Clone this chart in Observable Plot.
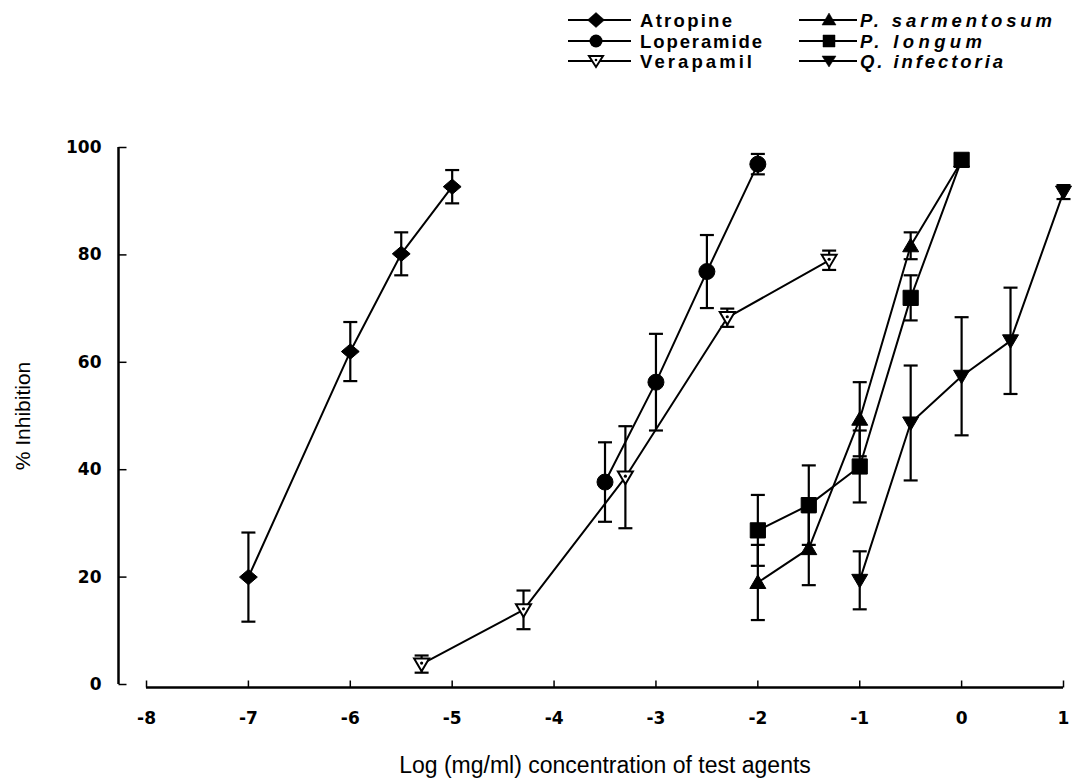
<!DOCTYPE html>
<html>
<head>
<meta charset="utf-8">
<script src="https://cdn.jsdelivr.net/npm/d3@7"></script>
<script src="https://cdn.jsdelivr.net/npm/@observablehq/plot@0.6"></script>
<style>
  html, body { margin: 0; padding: 0; background: #fff; }
  #wrap { position: relative; width: 1072px; height: 784px; overflow: hidden; }
  #legend { position: absolute; left: 0; top: 0; }
</style>
</head>
<body>
<div id="wrap">
  <div id="chart"></div>
  <svg id="legend" width="1072" height="80"></svg>
</div>
<script>
// ---- data ----
const seriesNames = ["Atropine", "Loperamide", "Verapamil", "P. sarmentosum", "P. longum", "Q. infectoria"];

const atropineX = [-7, -6, -5.5, -5];
const atropineY = [20, 62, 80.2, 92.7];
const atropineErr = [8.3, 5.5, 4, 3.1];

const loperamideX = [-3.5, -3, -2.5, -2];
const loperamideY = [37.7, 56.3, 76.9, 96.9];
const loperamideErr = [7.4, 9, 6.8, 1.9];

const verapamilX = [-5.3, -4.3, -3.3, -2.3, -1.3];
const verapamilY = [3.8, 13.9, 38.6, 68.3, 79];
const verapamilErr = [1.6, 3.6, 9.5, 1.7, 1.8];

const sarmentosumX = [-2, -1.5, -1, -0.5, 0];
const sarmentosumY = [19, 25.3, 49.4, 81.7, 97.5];
const sarmentosumErr = [7, 6.8, 6.9, 2.5, 1];

const longumX = [-2, -1.5, -1, -0.5, 0];
const longumY = [28.7, 33.4, 40.6, 72, 97.7];
const longumErr = [6.6, 7.4, 6.7, 4.2, 1];

const infectoriaX = [-1, -0.5, 0, 0.48, 1];
const infectoriaY = [19.4, 48.7, 57.4, 64, 91.7];
const infectoriaErr = [5.4, 10.7, 11, 9.9, 1.3];

const xTicks = [-8, -7, -6, -5, -4, -3, -2, -1, 0, 1];
const yTicks = [0, 20, 40, 60, 80, 100];
const xTitle = "Log (mg/ml) concentration of test agents";
const yTitle = "% Inhibition";

// ---- symbols ----
const rOf = size => Math.sqrt(size / Math.PI);
const diamondSym = { draw(c, s) { const r = rOf(s); c.moveTo(0, -r * 0.9); c.lineTo(r * 1.05, 0); c.lineTo(0, r * 0.9); c.lineTo(-r * 1.05, 0); c.closePath(); } };
const circleSym = { draw(c, s) { const r = rOf(s); c.moveTo(r, 0); c.arc(0, 0, r, 0, 2 * Math.PI); c.closePath(); } };
const triUpSym = { draw(c, s) { const r = rOf(s); c.moveTo(0, -r * 0.95); c.lineTo(r, r * 0.75); c.lineTo(-r, r * 0.75); c.closePath(); } };
const triDownSym = { draw(c, s) { const r = rOf(s); c.moveTo(-r, -r * 0.75); c.lineTo(r, -r * 0.75); c.lineTo(0, r * 0.95); c.closePath(); } };
const squareSym = { draw(c, s) { const r = rOf(s) * 0.95; c.rect(-r, -r, 2 * r, 2 * r); } };
const capSym = { draw(c, s) { c.moveTo(-7, 0); c.lineTo(7, 0); } };
const vTickSym = { draw(c, s) { c.moveTo(0, 0); c.lineTo(0, -7); } };
const hTickSym = { draw(c, s) { c.moveTo(0, 0); c.lineTo(8, 0); } };

const xs = [atropineX, loperamideX, verapamilX, sarmentosumX, longumX, infectoriaX];
const ys = [atropineY, loperamideY, verapamilY, sarmentosumY, longumY, infectoriaY];
const es = [atropineErr, loperamideErr, verapamilErr, sarmentosumErr, longumErr, infectoriaErr];
const syms = [diamondSym, circleSym, triDownSym, triUpSym, squareSym, triDownSym];
const fills = ["black", "black", "white", "black", "black", "black"];
const sizes = [8.5, 8, 7.5, 8, 8, 8];

const rows = [];
seriesNames.forEach((name, i) => {
  xs[i].forEach((x, j) => rows.push({ series: name, idx: i, x, y: ys[i][j], e: es[i][j] }));
});

const xDomain = [-8.275, xTicks[xTicks.length - 1]];
const tickFont = "'DejaVu Sans', sans-serif";

const marks = [
  // y axis
  Plot.ruleX([xDomain[0]], { y1: yTicks[0], y2: yTicks[yTicks.length - 1], strokeWidth: 2.5 }),
  Plot.dot(yTicks, { x: () => xDomain[0], y: d => d, symbol: hTickSym, stroke: "black", strokeWidth: 1.5, fill: "none" }),
  Plot.axisY({ ticks: yTicks, tickSize: 0, tickPadding: 17, tickFormat: d => String(d), fontSize: 17, fontWeight: "bold", fontFamily: tickFont, label: null }),
  // x axis
  Plot.ruleY([0], { x1: xTicks[0], x2: xTicks[xTicks.length - 1], dy: 3, strokeWidth: 2.5 }),
  Plot.dot(xTicks, { x: d => d, y: () => 0, dy: 3, symbol: vTickSym, stroke: "black", strokeWidth: 1.5, fill: "none" }),
  Plot.axisX({ ticks: xTicks, tickSize: 0, tickPadding: 27, tickFormat: d => String(d), fontSize: 17, fontWeight: "bold", fontFamily: tickFont, label: null }),
  Plot.text([yTitle], { frameAnchor: "left", dx: -95, rotate: -90, textAnchor: "middle", lineAnchor: "middle", fontSize: 21, text: d => d, ariaLabel: "y-title" }),
  Plot.text([xTitle], { frameAnchor: "bottom", dx: 14, dy: 81, textAnchor: "middle", lineAnchor: "middle", fontSize: 23, text: d => d, ariaLabel: "x-title" })
];

seriesNames.forEach((name, i) => {
  const data = rows.filter(r => r.idx === i);
  marks.push(Plot.line(data, { x: "x", y: "y", stroke: "black", strokeWidth: 2 }));
  marks.push(Plot.ruleX(data, { x: "x", y1: d => d.y - d.e, y2: d => d.y + d.e, stroke: "black", strokeWidth: 2.2 }));
  marks.push(Plot.dot(data, { x: "x", y: d => d.y - d.e, symbol: capSym, stroke: "black", strokeWidth: 2.2 }));
  marks.push(Plot.dot(data, { x: "x", y: d => d.y + d.e, symbol: capSym, stroke: "black", strokeWidth: 2.2 }));
});
seriesNames.forEach((name, i) => {
  const data = rows.filter(r => r.idx === i);
  marks.push(Plot.dot(data, { x: "x", y: "y", symbol: syms[i], r: sizes[i], fill: fills[i], stroke: "black", strokeWidth: fills[i] === "white" ? 2 : 1 }));
  if (fills[i] === "white") {
    marks.push(Plot.dot(data, { x: "x", y: "y", r: 1.6, dy: -1, fill: "black", stroke: "none" }));
  }
});

const chart = Plot.plot({
  width: 1072,
  height: 784,
  marginTop: 147,
  marginBottom: 100,
  marginLeft: 118,
  marginRight: 9,
  x: { domain: xDomain },
  y: { domain: [yTicks[0], yTicks[yTicks.length - 1]] },
  style: { fontFamily: "'Liberation Sans', Arial, sans-serif", background: "white", color: "black" },
  marks
});
document.getElementById("chart").appendChild(chart);

// stretch the axis titles to the reference's spacing
d3.select(chart).selectAll('g[aria-label="x-title"] text').attr("textLength", 494).attr("lengthAdjust", "spacing");
d3.select(chart).selectAll('g[aria-label="y-title"] text').attr("textLength", 119).attr("lengthAdjust", "spacing");

// ---- legend ----
const legend = d3.select("#legend");
const legendCols = [{ x: 568, len: 63, mk: 28, tx: 72 }, { x: 799, len: 58, mk: 30, tx: 61 }];
const legendRows = [20, 41, 61];
const legendTextLen = [92, 122, 112, 192, 122, 143];
const legendSyms = [
  'M0,-7.5 L8.5,0 L0,7.5 L-8.5,0 Z',
  null,
  'M-7,-5 L7,-5 L0,6 Z',
  'M0,-7 L7,5 L-7,5 Z',
  'M-6,-6 L6,-6 L6,6 L-6,6 Z',
  'M-7,-5 L7,-5 L0,6 Z'
];
seriesNames.forEach((name, i) => {
  const col = Math.floor(i / 3), row = i % 3;
  const c = legendCols[col], y0 = legendRows[row];
  const g = legend.append("g").attr("transform", `translate(${c.x},${y0})`);
  g.append("line").attr("x1", 0).attr("x2", c.len).attr("y1", 0).attr("y2", 0).attr("stroke", "black").attr("stroke-width", 2);
  if (legendSyms[i] === null) {
    g.append("circle").attr("cx", c.mk).attr("cy", 0).attr("r", 6.5).attr("fill", "black");
  } else {
    g.append("path").attr("d", legendSyms[i]).attr("transform", `translate(${c.mk},0)`)
      .attr("fill", fills[i]).attr("stroke", "black").attr("stroke-width", fills[i] === "white" ? 2 : 0.5);
    if (fills[i] === "white") g.append("circle").attr("cx", c.mk).attr("cy", -1).attr("r", 1.3).attr("fill", "black");
  }
  g.append("text")
    .attr("x", c.tx)
    .attr("y", 6.5)
    .attr("font-family", "'Liberation Sans', Arial, sans-serif")
    .attr("font-size", 18.5)
    .attr("font-weight", "bold")
    .attr("font-style", col === 1 ? "italic" : "normal")
    .attr("textLength", legendTextLen[i])
    .attr("lengthAdjust", "spacing")
    .text(name);
});
</script>
</body>
</html>
